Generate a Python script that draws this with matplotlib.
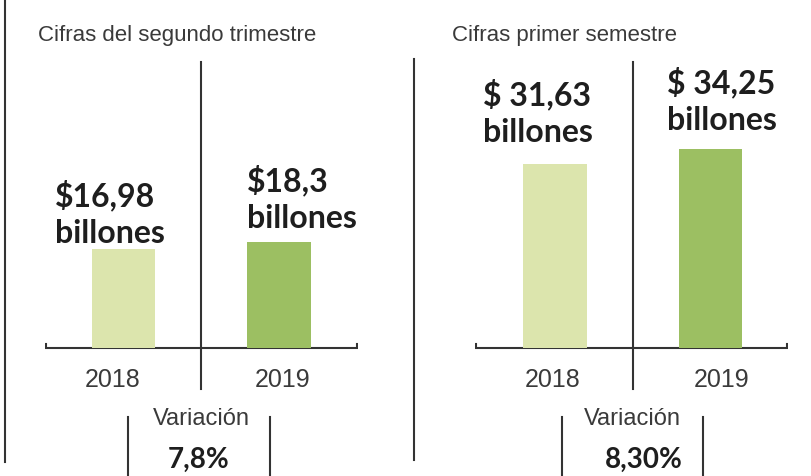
import matplotlib
matplotlib.use("Agg")
import matplotlib.pyplot as plt
from matplotlib.lines import Line2D

# ---- data ----
titles = ["Cifras del segundo trimestre", "Cifras primer semestre"]
years = ["2018", "2019"]
q2_values = [16.98, 18.3]
h1_values = [31.63, 34.25]
q2_labels = ["$16,98\nbillones", "$18,3\nbillones"]
h1_labels = ["$ 31,63\nbillones", "$ 34,25\nbillones"]
variations = ["7,8%", "8,30%"]

# ---- style ----
W, H = 811, 477
BAR_COLS = ["#dce5ad", "#9cbf62"]
LINE = "#333333"
TXT = "#3a3a3a"
NARROW = ["Liberation Sans", "DejaVu Sans"]
BOLD = ["Lato", "DejaVu Sans"]

# per-label placement relative to bar centre / bar top (data units)
label_dx = [[-0.44, -0.206], [-0.458, -0.279]]
label_dy = [[6.3, 7.5], [9.0, 8.4]]
year_dx = [[-0.07, 0.02], [-0.01, 0.07]]
pct_dx = [-0.02, 0.07]
bracket_x = [[0.03, 0.94], [0.05, 0.95]]

fig = plt.figure(figsize=(W / 100, H / 100), dpi=100)
fig.patch.set_facecolor("white")

def fx(px): return px / W
def fy(py): return 1 - py / H

def vline(x, y0, y1, lw=1.5):
    fig.add_artist(Line2D([fx(x), fx(x)], [fy(y0), fy(y1)], color=LINE, lw=lw,
                          transform=fig.transFigure))

# outer frame lines
vline(5, 0, 463)
vline(414, 60, 461)

panels = [
    (45, (-0.505, 1.508), q2_values, q2_labels, variations[0]),
    (475, (-0.51, 1.497), h1_values, h1_labels, variations[1]),
]
title_x = [38, 452]

for p, (left, xl, vals, labs, var) in enumerate(panels):
    ax = fig.add_axes([fx(left), 0, fx(313), 1])
    ax.set_xlim(*xl)
    ax.set_ylim(-22, 60)
    ax.axis("off")

    xs = list(range(len(vals)))
    ax.bar(xs, vals, width=0.41, color=BAR_COLS, zorder=2)

    # baseline bracket
    x0, x1 = xl[0] + 0.005, xl[1] - 0.005
    ax.plot([x0, x0, x1, x1], [0.7, 0, 0, 0.7], color=LINE, lw=1.5, zorder=1,
            solid_joinstyle="miter")
    # centre divider
    ax.plot([0.5, 0.5], [49.1, -7.0], color=LINE, lw=1.5, zorder=3)

    for i, (v, lab) in enumerate(zip(vals, labs)):
        ax.text(i + label_dx[p][i], v + label_dy[p][i], lab, ha="left", va="center",
                fontsize=23, fontweight="bold", family=BOLD, color="#1e1e1e",
                linespacing=1.3)
        ax.text(i + year_dx[p][i], -5.4, years[i], ha="center", va="center",
                fontsize=18, family=NARROW, color=TXT)

    # variation bracket
    ax.text(0.5, -12.0, "Variación", ha="center", va="center", fontsize=17,
            family=NARROW, color=TXT)
    ax.text(0.5 + pct_dx[p], -19.1, var, ha="center", va="center", fontsize=20,
            fontweight="bold", family=BOLD, color="#1e1e1e")
    for bx in bracket_x[p]:
        ax.plot([bx, bx], [-11.9, -23], color=LINE, lw=1.5, clip_on=False)

    fig.text(fx(title_x[p]), fy(36), titles[p], ha="left", va="center", fontsize=16,
             family=NARROW, color=TXT)

fig.savefig("out.png", dpi=100, facecolor="white")
